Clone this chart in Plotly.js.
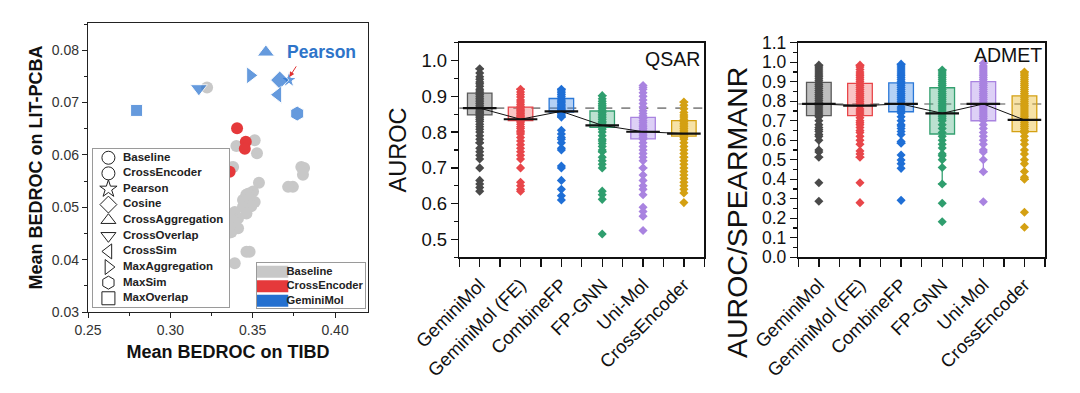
<!DOCTYPE html>
<html>
<head>
<meta charset="utf-8">
<script src="https://cdn.plot.ly/plotly-3.0.1.min.js"></script>
<style>html,body{margin:0;padding:0;background:#fff;}#chart{width:1080px;height:393px;}</style>
</head>
<body>
<div id="chart"></div>
<script>
// ---------------- Panel A data (scatter) ----------------
const baselineX = [0.3223,0.3401,0.3512,0.3526,0.3381,0.3371,0.3795,0.3812,0.3805,0.3744,0.3715,0.3538,0.3502,0.3472,0.3461,0.3441,0.3462,0.3512,0.3481,0.3491,0.3441,0.3462,0.3391,0.3411,0.3401,0.3380,0.3361,0.3411,0.3371,0.3361,0.3462,0.3481,0.3391];
const baselineY = [0.0729,0.0617,0.0628,0.0603,0.0577,0.0576,0.0577,0.0575,0.0562,0.0539,0.0539,0.0547,0.0530,0.0526,0.0524,0.0514,0.0514,0.0510,0.0508,0.0502,0.0501,0.0488,0.0491,0.0479,0.0476,0.0475,0.0463,0.0460,0.0453,0.0452,0.0415,0.0415,0.0393];
const crossEncX = [0.3405,0.3458,0.3452,0.3360];
const crossEncY = [0.0651,0.0625,0.0612,0.0568];
const geminiNames = ['Pearson','Cosine','CrossAggregation','CrossOverlap','CrossSim','MaxAggregation','MaxSim','MaxOverlap'];
const geminiX = [0.3720,0.3664,0.3580,0.3173,0.3653,0.3486,0.3770,0.2795];
const geminiY = [0.0743,0.0743,0.0796,0.0727,0.0715,0.0752,0.0679,0.0685];
const symbolLegendNames = ['Baseline','CrossEncoder','Pearson','Cosine','CrossAggregation','CrossOverlap','CrossSim','MaxAggregation','MaxSim','MaxOverlap'];
const colorLegendNames = ['Baseline','CrossEncoder','GeminiMol'];

// ---------------- Panels B/C data (box plots) ----------------
const categories = ['GeminiMol','GeminiMol (FE)','CombineFP','FP-GNN','Uni-Mol','CrossEncoder'];

const qsarQ1     = [0.848,0.832,0.856,0.813,0.781,0.789];
const qsarMedian = [0.867,0.836,0.858,0.819,0.801,0.796];
const qsarQ3     = [0.909,0.870,0.894,0.859,0.841,0.832];
const qsarLower  = [0.770,0.800,0.842,0.745,0.700,0.730];
const qsarUpper  = [0.977,0.920,0.920,0.902,0.925,0.884];

const qsarGeminiMol = [0.977,0.965,0.955,0.948,0.940,0.935,0.928,0.920,0.915,0.910,0.905,0.900,0.895,0.890,0.885,0.880,0.875,0.870,0.866,0.862,0.858,0.855,0.852,0.848,0.845,0.840,0.835,0.830,0.822,0.815,0.808,0.800,0.790,0.780,0.770,0.755,0.745,0.735,0.725,0.700,0.665,0.655,0.645,0.635];
const qsarFE = [0.920,0.912,0.905,0.898,0.890,0.884,0.878,0.872,0.868,0.864,0.860,0.856,0.852,0.848,0.845,0.842,0.839,0.836,0.834,0.832,0.828,0.822,0.815,0.810,0.803,0.795,0.785,0.775,0.765,0.755,0.745,0.735,0.725,0.700,0.660,0.650,0.640,0.635];
const qsarCombineFP = [0.920,0.915,0.910,0.905,0.900,0.895,0.890,0.886,0.882,0.878,0.874,0.870,0.867,0.864,0.861,0.858,0.855,0.852,0.848,0.845,0.842,0.805,0.795,0.785,0.780,0.770,0.755,0.750,0.705,0.700,0.665,0.640,0.622,0.610];
const qsarFPGNN = [0.902,0.893,0.886,0.880,0.875,0.870,0.865,0.860,0.855,0.850,0.845,0.840,0.835,0.830,0.826,0.822,0.818,0.815,0.812,0.808,0.800,0.790,0.780,0.775,0.768,0.760,0.750,0.745,0.730,0.720,0.710,0.700,0.635,0.625,0.612,0.515];
const qsarUniMol = [0.930,0.920,0.910,0.900,0.890,0.880,0.870,0.860,0.852,0.845,0.838,0.832,0.826,0.820,0.815,0.810,0.805,0.800,0.795,0.790,0.785,0.780,0.770,0.760,0.750,0.740,0.730,0.720,0.700,0.680,0.665,0.650,0.640,0.625,0.590,0.578,0.565,0.525];
const qsarCrossEncoder = [0.884,0.875,0.865,0.855,0.848,0.842,0.836,0.830,0.825,0.820,0.815,0.810,0.805,0.800,0.797,0.794,0.790,0.785,0.780,0.770,0.760,0.750,0.740,0.730,0.720,0.710,0.700,0.690,0.680,0.670,0.660,0.650,0.640,0.630,0.603];

const admetQ1     = [0.726,0.726,0.746,0.632,0.700,0.644];
const admetMedian = [0.786,0.777,0.786,0.738,0.786,0.704];
const admetQ3     = [0.897,0.892,0.894,0.869,0.900,0.827];
const admetLower  = [0.513,0.513,0.585,0.376,0.439,0.400];
const admetUpper  = [0.985,0.985,0.990,0.960,0.995,0.950];

const admetGeminiMol = [0.985,0.975,0.965,0.955,0.945,0.935,0.925,0.915,0.905,0.895,0.885,0.875,0.865,0.855,0.845,0.835,0.825,0.815,0.805,0.795,0.788,0.780,0.770,0.760,0.750,0.740,0.730,0.720,0.700,0.680,0.665,0.655,0.645,0.630,0.620,0.600,0.550,0.540,0.513,0.382,0.287];
const admetFE = [0.985,0.975,0.962,0.950,0.940,0.930,0.920,0.910,0.900,0.890,0.880,0.870,0.860,0.850,0.840,0.830,0.820,0.810,0.800,0.790,0.780,0.775,0.760,0.750,0.740,0.730,0.715,0.700,0.690,0.680,0.665,0.650,0.640,0.620,0.600,0.580,0.545,0.530,0.513,0.382,0.280];
const admetCombineFP = [0.990,0.980,0.970,0.960,0.950,0.940,0.930,0.920,0.910,0.900,0.890,0.880,0.870,0.860,0.850,0.840,0.830,0.820,0.810,0.800,0.790,0.785,0.770,0.760,0.750,0.740,0.720,0.700,0.680,0.673,0.660,0.645,0.630,0.593,0.585,0.524,0.499,0.480,0.456,0.292];
const admetFPGNN = [0.960,0.950,0.940,0.930,0.920,0.910,0.900,0.890,0.880,0.870,0.860,0.850,0.840,0.830,0.820,0.810,0.800,0.790,0.780,0.770,0.760,0.750,0.740,0.730,0.720,0.710,0.700,0.680,0.660,0.640,0.620,0.600,0.580,0.560,0.530,0.520,0.500,0.460,0.376,0.277,0.182];
const admetUniMol = [0.995,0.980,0.970,0.960,0.950,0.940,0.930,0.920,0.910,0.900,0.890,0.880,0.870,0.860,0.850,0.840,0.830,0.820,0.810,0.800,0.790,0.785,0.780,0.770,0.760,0.750,0.740,0.730,0.720,0.710,0.700,0.680,0.660,0.640,0.620,0.600,0.580,0.550,0.540,0.500,0.439,0.285];
const admetCrossEncoder = [0.950,0.940,0.930,0.920,0.910,0.900,0.890,0.880,0.870,0.860,0.850,0.840,0.830,0.820,0.810,0.800,0.790,0.780,0.770,0.760,0.750,0.740,0.730,0.720,0.710,0.700,0.690,0.680,0.670,0.660,0.650,0.640,0.620,0.600,0.580,0.550,0.530,0.500,0.480,0.440,0.410,0.400,0.231,0.154];

// ---------------- Styles ----------------
const FONT = 'Liberation Sans, Arial, Helvetica, sans-serif';
const catPointColors = ['#4a4a4a','#e8464a','#1f6fd6','#2f9e6e','#a983e0','#d4a012'];
const catLineColors  = ['#5a5a5a','#e8464a','#2a78d8','#34a070','#a983e0','#d4a012'];
const catFillColors  = ['rgba(110,110,110,0.45)','rgba(240,110,110,0.40)','rgba(70,140,230,0.40)','rgba(60,170,120,0.35)','rgba(180,150,235,0.45)','rgba(235,190,60,0.45)'];
const gemSymbols = ['star','diamond','triangle-up','triangle-down','triangle-left','triangle-right','hexagon','square'];
const gemSizes = [12,14,15,15,15,15,15,12];
const legSymbols = ['circle-open','circle-open','star-open','diamond-open','triangle-up-open','triangle-down-open','triangle-left-open','triangle-right-open','hexagon-open','square-open'];
const colorLegendColors = ['#c8c8c8','#e5393b','#2470d0'];

const traces = [];
// Panel A
traces.push({type:'scatter',mode:'markers',x:baselineX,y:baselineY,xaxis:'x',yaxis:'y',
  marker:{symbol:'circle',size:12,color:'#c8c8c8'},showlegend:false});
traces.push({type:'scatter',mode:'markers',x:crossEncX,y:crossEncY,xaxis:'x',yaxis:'y',
  marker:{symbol:'circle',size:12,color:'#e5393b'},showlegend:false});
traces.push({type:'scatter',mode:'markers',x:geminiX,y:geminiY,xaxis:'x',yaxis:'y',text:geminiNames,
  marker:{symbol:gemSymbols,size:gemSizes,color:'#2470d0'},showlegend:false});

// symbol legend (hidden axes x4/y4)
const symIdx = symbolLegendNames.map((n,i)=>i);
traces.push({type:'scatter',mode:'markers',xaxis:'x4',yaxis:'y4',x:symIdx.map(()=>0.115),y:symIdx,
  marker:{symbol:legSymbols,size:13,color:'#222',line:{width:1,color:'#222'}},showlegend:false,hoverinfo:'skip'});
traces.push({type:'scatter',mode:'text',xaxis:'x4',yaxis:'y4',x:symIdx.map(()=>0.222),y:symIdx,text:symbolLegendNames,
  textposition:'middle right',textfont:{family:FONT,size:11.5,color:'#222',weight:700},showlegend:false,hoverinfo:'skip'});
// colour legend (hidden axes x5/y5)
const colIdx = colorLegendNames.map((n,i)=>i);
traces.push({type:'scatter',mode:'markers',xaxis:'x5',yaxis:'y5',x:colIdx.map(()=>0.13),y:colIdx,
  marker:{symbol:'line-ew',size:25,line:{width:12,color:colorLegendColors}},showlegend:false,hoverinfo:'skip'});
traces.push({type:'scatter',mode:'text',xaxis:'x5',yaxis:'y5',x:colIdx.map(()=>0.275),y:colIdx,text:colorLegendNames,
  textposition:'middle right',textfont:{family:FONT,size:11.2,color:'#222',weight:700},showlegend:false,hoverinfo:'skip'});

// Panels B/C
function addBoxPanel(xa, ya, q1, med, q3, lo, hi, pts) {
  categories.forEach((c,i)=>{
    traces.push({type:'box',xaxis:xa,yaxis:ya,name:c,x:[i],q1:[q1[i]],median:[med[i]],q3:[q3[i]],
      lowerfence:[lo[i]],upperfence:[hi[i]],width:0.6,whiskerwidth:0.35,boxpoints:false,
      fillcolor:catFillColors[i],line:{color:catLineColors[i],width:1.3},showlegend:false});
  });
  categories.forEach((c,i)=>{
    traces.push({type:'scatter',mode:'markers',xaxis:xa,yaxis:ya,name:c,x:pts[i].map(()=>i),y:pts[i],
      marker:{symbol:'diamond',size:7,color:catPointColors[i]},showlegend:false});
  });
  traces.push({type:'scatter',mode:'lines+markers',xaxis:xa,yaxis:ya,x:categories.map((c,i)=>i),y:med,
    line:{color:'#111',width:1},marker:{symbol:'line-ew',size:24,line:{width:2.2,color:'#111'}},showlegend:false,hoverinfo:'skip'});
}
addBoxPanel('x2','y2',qsarQ1,qsarMedian,qsarQ3,qsarLower,qsarUpper,
  [qsarGeminiMol,qsarFE,qsarCombineFP,qsarFPGNN,qsarUniMol,qsarCrossEncoder]);
addBoxPanel('x3','y3',admetQ1,admetMedian,admetQ3,admetLower,admetUpper,
  [admetGeminiMol,admetFE,admetCombineFP,admetFPGNN,admetUniMol,admetCrossEncoder]);

const W = 1080, H = 393;
const px = v => v / W;
const py = v => 1 - v / H;

const catAxis = (dom) => ({
  domain: dom, range: [-0.5, 5.5], tickmode: 'array',
  tickvals: categories.map((c,i)=>i), ticktext: categories, tickangle: -45,
  ticks: 'outside', ticklen: 8, tickwidth: 1.3, tickcolor: '#111',
  minor: {tickmode: 'linear', tick0: -0.5, dtick: 1, ticks: 'outside', ticklen: 8, tickwidth: 1.3, tickcolor: '#111'},
  showline: true, mirror: true, linecolor: '#111', linewidth: 1.5,
  showgrid: false, zeroline: false, tickfont: {family: FONT, size: 18.5, color: '#111'}, automargin: false
});

const layout = {
  width: W, height: H, margin: {l:0, r:0, t:0, b:0},
  paper_bgcolor: '#fff', plot_bgcolor: '#fff', showlegend: false,
  font: {family: FONT, color: '#111'},
  boxmode: 'overlay',
  xaxis: {domain: [px(88), px(368)], anchor: 'y', range: [0.25, 0.42], tick0: 0.25, dtick: 0.05, tickformat: '.2f',
    ticks: 'outside', ticklen: 5, tickwidth: 1, tickcolor: '#222',
    minor: {tick0: 0.25, dtick: 0.025, ticks: 'outside', ticklen: 3, tickcolor: '#222'},
    showline: true, mirror: true, linecolor: '#222', linewidth: 1.2, showgrid: false, zeroline: false,
    tickfont: {family: FONT, size: 14, color: '#333'}, automargin: false,
    title: {text: 'Mean BEDROC on TIBD', font: {family: FONT, size: 18, weight: 700, color: '#111'}, standoff: 8}},
  yaxis: {domain: [py(312), py(23)], anchor: 'x', range: [0.03, 0.0852], tick0: 0.03, dtick: 0.01, tickformat: '.2f',
    ticks: 'outside', ticklen: 5, tickwidth: 1, tickcolor: '#222',
    minor: {tick0: 0.03, dtick: 0.005, ticks: 'outside', ticklen: 3, tickcolor: '#222'},
    showline: true, mirror: true, linecolor: '#222', linewidth: 1.2, showgrid: false, zeroline: false,
    tickfont: {family: FONT, size: 14, color: '#333'}, automargin: false,
    title: {text: 'Mean BEDROC on LIT-PCBA', font: {family: FONT, size: 18, weight: 700, color: '#111'}, standoff: 4}},
  xaxis2: Object.assign(catAxis([px(459.3), px(704.3)]), {anchor: 'y2'}),
  yaxis2: {domain: [py(257.3), py(42.7)], anchor: 'x2', range: [0.45, 1.05], tick0: 0, dtick: 0.1, tickformat: '.1f',
    ticks: 'outside', ticklen: 7, tickwidth: 1.3, tickcolor: '#111',
    minor: {tick0: 0, dtick: 0.05, ticks: 'outside', ticklen: 4, tickcolor: '#111'},
    showline: true, mirror: true, linecolor: '#111', linewidth: 1.5, showgrid: false, zeroline: false,
    tickfont: {family: FONT, size: 18.5, color: '#111'}, automargin: false,
    title: {text: 'AUROC', font: {family: FONT, size: 23.5, color: '#111'}, standoff: 8}},
  xaxis3: Object.assign(catAxis([px(798.3), px(1045)]), {anchor: 'y3'}),
  yaxis3: {domain: [py(257.3), py(42.7)], anchor: 'x3', range: [0, 1.1], tick0: 0, dtick: 0.1, tickformat: '.1f',
    ticks: 'outside', ticklen: 7, tickwidth: 1.3, tickcolor: '#111',
    minor: {tick0: 0, dtick: 0.05, ticks: 'outside', ticklen: 4, tickcolor: '#111'},
    showline: true, mirror: true, linecolor: '#111', linewidth: 1.5, showgrid: false, zeroline: false,
    tickfont: {family: FONT, size: 17.5, color: '#111'}, automargin: false},
  xaxis4: {domain: [px(92.7), px(229.3)], anchor: 'y4', range: [0, 1], showgrid: false, zeroline: false,
    showticklabels: false, ticks: '', showline: true, mirror: true, linecolor: '#9a9a9a', linewidth: 1, fixedrange: true},
  yaxis4: {domain: [py(306.7), py(149)], anchor: 'x4', range: [9.54, -0.56], showgrid: false, zeroline: false,
    showticklabels: false, ticks: '', showline: true, mirror: true, linecolor: '#9a9a9a', linewidth: 1, fixedrange: true},
  xaxis5: {domain: [px(256.7), px(365)], anchor: 'y5', range: [0, 1], showgrid: false, zeroline: false,
    showticklabels: false, ticks: '', showline: true, mirror: true, linecolor: '#9a9a9a', linewidth: 1, fixedrange: true},
  yaxis5: {domain: [py(308.3), py(263.3)], anchor: 'x5', range: [2.52, -0.58], showgrid: false, zeroline: false,
    showticklabels: false, ticks: '', showline: true, mirror: true, linecolor: '#9a9a9a', linewidth: 1, fixedrange: true},
  shapes: [
    {type: 'line', xref: 'x2 domain', x0: 0, x1: 1, yref: 'y2', y0: qsarMedian[0], y1: qsarMedian[0],
     line: {color: '#8a8a8a', width: 1.6, dash: 'dash'}, layer: 'below'},
    {type: 'line', xref: 'x3 domain', x0: 0, x1: 1, yref: 'y3', y0: admetMedian[0], y1: admetMedian[0],
     line: {color: '#8a8a8a', width: 1.6, dash: 'dash'}, layer: 'below'}
  ],
  annotations: [
    {xref: 'x', yref: 'y', x: geminiX[0] + 0.0003, y: geminiY[0] + 0.0006, ax: 0.3770, ay: 0.0772, axref: 'x', ayref: 'y',
     text: '', showarrow: true, arrowhead: 2, arrowsize: 1, arrowwidth: 1, arrowcolor: '#e03030'},
    {xref: 'x', yref: 'y', x: 0.3916, y: 0.0796, text: 'Pearson', showarrow: false, xanchor: 'center', yanchor: 'middle',
     font: {family: FONT, size: 17.5, weight: 700, color: '#2e74c9'}},
    {xref: 'paper', yref: 'paper', x: px(672.5), y: py(59), text: 'QSAR', showarrow: false, xanchor: 'center', yanchor: 'middle',
     font: {family: FONT, size: 19.5, color: '#111'}},
    {xref: 'paper', yref: 'paper', x: px(1007.5), y: py(55), text: 'ADMET', showarrow: false, xanchor: 'center', yanchor: 'middle',
     font: {family: FONT, size: 19.5, color: '#111'}},
    {xref: 'paper', yref: 'paper', x: px(737), y: py(213), text: 'AUROC/SPEARMANR', textangle: -90, showarrow: false,
     xanchor: 'center', yanchor: 'middle', font: {family: FONT, size: 28.5, color: '#111'}}
  ]
};

Plotly.newPlot('chart', traces, layout, {displayModeBar: false, staticPlot: true});
</script>
</body>
</html>
